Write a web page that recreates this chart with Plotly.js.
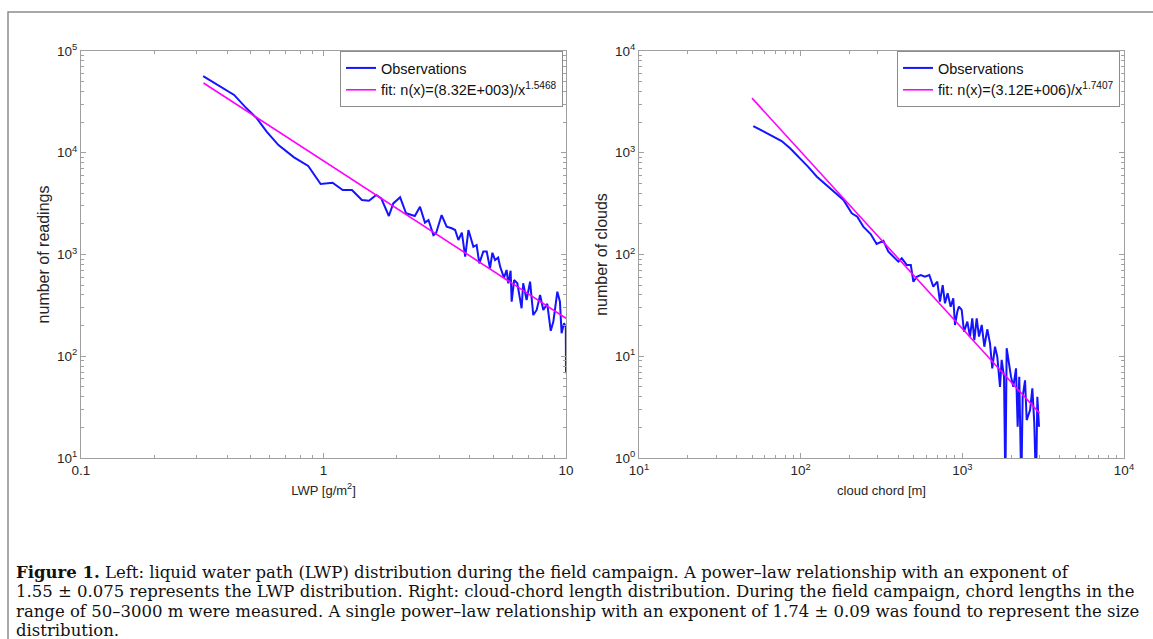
<!DOCTYPE html>
<html>
<head>
<meta charset="utf-8">
<script src="https://cdn.plot.ly/plotly-3.0.1.min.js"></script>
<style>
html, body { margin: 0; padding: 0; background: #ffffff; }
#chart { width: 1153px; height: 639px; }
</style>
</head>
<body>
<div id="chart"></div>
<script>
// ---------- Data ----------
// Left panel: LWP distribution
const lwpObsX = [0.319, 0.368, 0.428, 0.474, 0.531, 0.583, 0.652, 0.756, 0.865, 0.973, 1.09, 1.20, 1.31, 1.44, 1.54, 1.65, 1.73, 1.86, 1.94, 2.07, 2.19, 2.38, 2.50, 2.62, 2.71, 2.84, 2.91, 3.07, 3.22, 3.38, 3.49, 3.60, 3.72, 3.84, 3.96, 4.15, 4.28, 4.39, 4.56, 4.71, 4.86, 4.97, 5.10, 5.25, 5.35, 5.55, 5.69, 5.78, 5.91, 5.97, 6.11, 6.30, 6.56, 6.66, 6.88, 7.11, 7.33, 7.57, 7.82, 8.06, 8.37, 8.65, 8.87, 9.21, 9.44, 9.59, 9.81, 9.98, 10.0];
const lwpObsY = [56700, 46300, 37000, 28400, 21800, 16100, 11900, 9010, 7410, 4930, 5080, 4300, 4300, 3430, 3380, 3850, 3560, 2390, 3180, 3650, 2540, 2390, 2950, 2060, 2180, 1550, 1610, 2440, 1880, 1810, 1740, 1390, 1640, 951, 1740, 1190, 1240, 818, 1070, 1070, 731, 1040, 883, 933, 759, 591, 705, 521, 693, 344, 561, 521, 296, 521, 357, 541, 254, 285, 400, 285, 327, 178, 219, 431, 344, 168, 211, 195, 68];
const lwpFitX = [0.32, 10];
const lwpFitY = [48500, 236];

// Right panel: cloud-chord length distribution
const chordObsX = [50.9, 61.6, 76.3, 86.0, 99.1, 111, 126, 145, 167, 184, 207, 224, 244, 271, 295, 310, 325, 348, 374, 402, 422, 453, 480, 498, 522, 553, 587, 625, 661, 700, 727, 756, 781, 811, 847, 879, 901, 931, 953, 991, 1024, 1074, 1115, 1152, 1186, 1227, 1268, 1318, 1368, 1427, 1483, 1532, 1592, 1645, 1710, 1751, 1811, 1845, 1880, 1953, 2000, 2067, 2148, 2199, 2250, 2316, 2361, 2443, 2500, 2624, 2711, 2787, 2857, 2911, 2981];
const chordObsY = [1830, 1550, 1305, 1107, 883, 730, 582, 482, 399, 344, 254, 235, 188, 159, 127, 131, 136, 107, 95, 85, 91.7, 78.9, 78.9, 54, 60.5, 62.9, 60.5, 62.9, 48.3, 54, 34.4, 50, 33.1, 41.6, 30.7, 37.1, 20.3, 27.4, 30.7, 28.5, 17.4, 21.9, 15.6, 23.6, 14.4, 23.6, 15.6, 20.3, 12.4, 18.4, 13.4, 7.6, 12.4, 9.9, 5.0, 9.2, 6.3, 0.5, 12.0, 7.6, 6.3, 5.0, 7.6, 2.03, 6.3, 0.5, 4.0, 5.8, 2.36, 2.96, 4.84, 2.19, 0.5, 4.0, 2.03];
const chordFitX = [50, 3000];
const chordFitY = [3440, 2.76];

// Tick labels
const lwpXTickVals = [0.1, 1, 10];
const lwpXTickText = ['0.1', '1', '10'];
const lwpYTickVals = [10, 100, 1000, 10000, 100000];
const lwpYTickText = ['10<sup>1</sup>', '10<sup>2</sup>', '10<sup>3</sup>', '10<sup>4</sup>', '10<sup>5</sup>'];
const chordXTickVals = [10, 100, 1000, 10000];
const chordXTickText = ['10<sup>1</sup>', '10<sup>2</sup>', '10<sup>3</sup>', '10<sup>4</sup>'];
const chordYTickVals = [1, 10, 100, 1000, 10000];
const chordYTickText = ['10<sup>0</sup>', '10<sup>1</sup>', '10<sup>2</sup>', '10<sup>3</sup>', '10<sup>4</sup>'];

// Text
const obsName = 'Observations';
const lwpFitName = 'fit: n(x)=(8.32E+003)/x<sup>1.5468</sup>';
const chordFitName = 'fit: n(x)=(3.12E+006)/x<sup>1.7407</sup>';
const lwpXTitle = 'LWP [g/m<sup>2</sup>]';
const lwpYTitle = 'number of readings';
const chordXTitle = 'cloud chord [m]';
const chordYTitle = 'number of clouds';
const captionLines = [
  '<b>Figure 1.</b> Left: liquid water path (LWP) distribution during the field campaign. A power\u2013law relationship with an exponent of',
  '1.55 \u00b1 0.075 represents the LWP distribution. Right: cloud-chord length distribution. During the field campaign, chord lengths in the',
  'range of 50\u20133000 m were measured. A single power\u2013law relationship with an exponent of 1.74 \u00b1 0.09 was found to represent the size',
  'distribution.'
];

// ---------- Layout helpers ----------
const W = 1153, H = 639;
const px = v => v / W;
const py = v => 1 - v / H;

function minorLogTicks(d0, d1) {
  const out = [];
  for (let d = d0; d < d1; d++) {
    for (let k = 2; k <= 9; k++) out.push(k * Math.pow(10, d));
  }
  return out;
}

const axisColor = '#a0a0a0';
const sans = 'Liberation Sans, Arial, sans-serif';
const tickFont = { family: sans, size: 13.5, color: '#262626' };
const xTitleFont = { family: sans, size: 13, color: '#262626' };
const yTitleFont = { family: sans, size: 16, color: '#262626' };

function logAxis(domain, range, vals, text, minorVals, title, tfont, standoff, anchor) {
  return {
    type: 'log', domain: domain, range: range, anchor: anchor,
    tickmode: 'array', tickvals: vals, ticktext: text,
    showline: true, linecolor: axisColor, linewidth: 1, mirror: 'allticks',
    ticks: 'inside', ticklen: 5, tickcolor: axisColor, tickwidth: 1,
    showgrid: false, zeroline: false, tickfont: tickFont,
    minor: { tickmode: 'array', tickvals: minorVals, ticks: 'inside', ticklen: 3, tickcolor: axisColor, showgrid: false },
    title: { text: title, font: tfont, standoff: standoff },
    fixedrange: true
  };
}

const blue = '#1414ff';
const magenta = '#ff00ff';

const traces = [
  { x: lwpObsX, y: lwpObsY, xaxis: 'x', yaxis: 'y', type: 'scatter', mode: 'lines', name: obsName, line: { color: blue, width: 2 }, legend: 'legend' },
  { x: lwpFitX, y: lwpFitY, xaxis: 'x', yaxis: 'y', type: 'scatter', mode: 'lines', name: lwpFitName, line: { color: magenta, width: 1.6 }, legend: 'legend' },
  { x: chordObsX, y: chordObsY, xaxis: 'x2', yaxis: 'y2', type: 'scatter', mode: 'lines', name: obsName, line: { color: blue, width: 2 }, legend: 'legend2' },
  { x: chordFitX, y: chordFitY, xaxis: 'x2', yaxis: 'y2', type: 'scatter', mode: 'lines', name: chordFitName, line: { color: magenta, width: 1.6 }, legend: 'legend2' }
];

const legendFont = { family: sans, size: 14.5, color: '#111' };
function legendAt(rightPx) {
  return {
    x: px(rightPx), xanchor: 'right', y: py(51), yanchor: 'top',
    bgcolor: '#ffffff', bordercolor: '#8c8c8c', borderwidth: 1,
    font: legendFont, itemwidth: 30, tracegroupgap: 0, traceorder: 'normal'
  };
}

const annotations = captionLines.map((t, i) => ({
  text: t, xref: 'paper', yref: 'paper', x: px(14), y: py(572 + i * 19.6),
  xanchor: 'left', yanchor: 'middle', showarrow: false, align: 'left',
  font: { family: 'DejaVu Serif, Liberation Serif, serif', size: 16.5, color: '#111' }
}));

const layout = {
  width: W, height: H,
  margin: { l: 0, r: 0, t: 0, b: 0 },
  paper_bgcolor: '#ffffff', plot_bgcolor: '#ffffff',
  showlegend: true,
  xaxis: logAxis([px(81), px(566)], [-1, 1], lwpXTickVals, lwpXTickText, minorLogTicks(-1, 1), lwpXTitle, xTitleFont, 8, 'y'),
  yaxis: logAxis([py(458), py(51)], [1, 5], lwpYTickVals, lwpYTickText, minorLogTicks(1, 5), lwpYTitle, yTitleFont, 3, 'x'),
  xaxis2: logAxis([px(639), px(1124)], [1, 4], chordXTickVals, chordXTickText, minorLogTicks(1, 4), chordXTitle, xTitleFont, 8, 'y2'),
  yaxis2: logAxis([py(458), py(51)], [0, 4], chordYTickVals, chordYTickText, minorLogTicks(0, 4), chordYTitle, yTitleFont, 3, 'x2'),
  legend: legendAt(563),
  legend2: legendAt(1120),
  annotations: annotations,
  shapes: [
    { type: 'rect', xref: 'paper', yref: 'paper', x0: px(8), x1: px(1170), y0: py(12), y1: py(700),
      line: { color: '#8c8c8c', width: 1.5 }, fillcolor: 'rgba(0,0,0,0)', layer: 'below' }
  ]
};

Plotly.newPlot('chart', traces, layout, { displayModeBar: false, staticPlot: true });
</script>
</body>
</html>
